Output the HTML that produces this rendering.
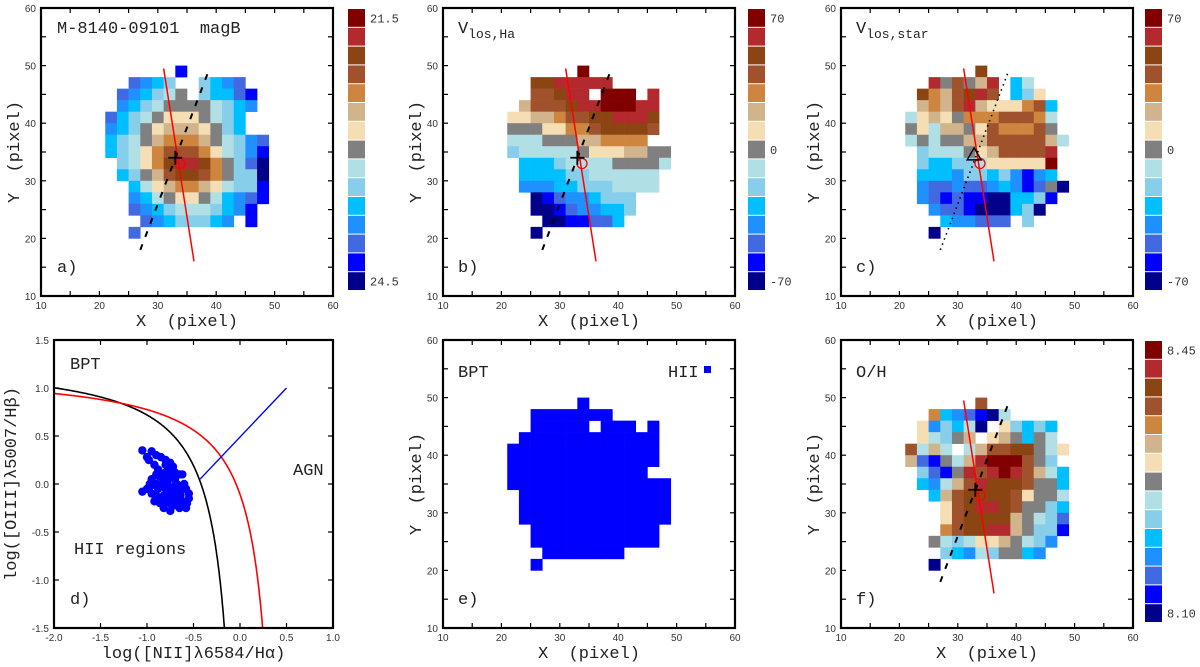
<!DOCTYPE html>
<html><head><meta charset="utf-8">
<style>
html,body{margin:0;padding:0;background:#fff;}
svg{display:block;font-family:"Liberation Mono",monospace;}
text{white-space:pre;}
.tk{font-family:"Liberation Sans",sans-serif;font-size:10px;fill:#333;}
.ttl{font-size:17px;fill:#222;}
.lbl{font-size:17px;fill:#222;}
.cbl{font-size:12px;fill:#333;}
</style></head>
<body>
<svg id="fig" width="1200" height="667" viewBox="0 0 1200 667" xmlns="http://www.w3.org/2000/svg"></svg>
<script>
// ---------- DATA ----------
const levelColors = ["#800000","#b22a2e","#8b4513","#a0522d","#cd853f","#d2b48c","#f5deb3","#808080","#b0e0e6","#87ceeb","#00bfff","#1e90ff","#4169e1","#0000ff","#00008b"];
const levelCodes = "0123456789abcde";
const gridX0 = 21, gridYTop = 48, cellStep = 2;
const mapA = [
"......d.......",
"..cba9..9abc..",
".cba987.9aacd.",
".ba98777789ab.",
"ca987666789a..",
"ba976555679a..",
"a98754445789bc",
"a98643334689bd",
".98642112479ce",
".a97532234799e",
"..a8654456899d",
"..ba876678abcd",
"..cba98889abd.",
"...cba999ab.d.",
"..c..........."];
const mapB = [
"......0.......",
"..2211111.....",
"..33211.000.1.",
".533321100011.",
"6655433221112.",
"7776644322223.",
"888777554444..",
"98888876665577",
".aaa9888877778",
".aaaa99888888.",
".bbbaa9998888.",
"..edcbba999...",
"..eedcbbaa9...",
"...eeddcca....",
"..e..........."];
const mapC = [
"......2.......",
"..173751.a8...",
".2453213.a96..",
".54531566643a.",
"8656744433348.",
"7685576344437.",
"87877553333358",
".988876533331.",
".9aa998666660.",
".aaab99a9bdba.",
".bccbccbabdc7e",
".bcdcddeeaa9d.",
"..bccdeeea9e..",
"...abbccc.9...",
"..e..........."];
const mapF = [
"......3.......",
"..4abcde8.....",
".6b9a8e.69a9a.",
".68975.657a78.",
"3858.853322786",
"5cd7851000379.",
".9cd713101358a",
".ab8531222377a",
"..a53222236778",
"...6321123779a",
"...6322225789c",
"...4322115799d",
"..7898665789b.",
"...9ab8977ab..",
"..e..........."];
const mapE = [
"......#.......",
"..#######.....",
"..#####.###.#.",
".############.",
"#############.",
"#############.",
"############..",
"##############",
".#############",
".#############",
".#############",
"..###########.",
"..###########.",
"...#######....",
"..#..........."];
const cbLabelsA = ["21.5","24.5"];
const cbLabelsB = ["70","0","-70"];
const cbLabelsC = ["70","0","-70"];
const cbLabelsF = ["8.45","8.10"];
const bptX = [-1.05,-0.95,-0.9,-0.85,-0.8,-0.75,-0.72,-1.0,-0.98,-0.92,-0.88,-0.85,-0.8,-0.75,-0.7,-0.65,-0.62,-0.95,-0.9,-0.85,-0.8,-0.75,-0.7,-0.65,-0.6,-0.55,-1.05,-1.0,-0.95,-0.9,-0.85,-0.8,-0.75,-0.7,-0.65,-0.6,-0.55,-0.58,-0.68,-0.78,-0.88,-0.92,-0.82,-0.75,-0.72,-0.62,-0.6,-0.68,-0.78,-0.83,-0.58,-0.66,-0.74,-0.86,-0.96,-0.8,-0.76,-0.7,-0.9,-0.82,-0.72,-0.64,-0.57,-0.97,-0.87,-0.77,-0.67];
const bptY = [0.35,0.34,0.3,0.28,0.25,0.22,0.18,0.28,0.25,0.2,0.15,0.1,0.12,0.08,0.05,0.1,0.1,0.05,0.0,-0.02,-0.05,-0.05,-0.02,-0.03,-0.05,-0.1,-0.08,-0.05,-0.1,-0.12,-0.15,-0.18,-0.2,-0.22,-0.25,-0.2,-0.15,-0.05,-0.15,-0.1,-0.05,-0.18,-0.25,-0.28,-0.12,-0.18,0.0,0.0,0.02,0.05,-0.25,-0.08,-0.15,-0.2,-0.02,0.2,0.15,0.12,0.1,-0.12,-0.08,-0.12,-0.2,0.0,0.08,-0.03,-0.18];
const xTicksPix = [10,20,30,40,50,60];
const xTicksBpt = ["-2.0","-1.5","-1.0","-0.5","0.0","0.5","1.0"];
const yTicksBpt = ["1.5","1.0","0.5","0.0","-0.5","-1.0","-1.5"];
// ---------- DRAW ----------
const NS="http://www.w3.org/2000/svg";
const svg=document.getElementById('fig');
function el(tag,attrs,parent){const e=document.createElementNS(NS,tag);for(const k in attrs)e.setAttribute(k,attrs[k]);(parent||svg).appendChild(e);return e;}
function txt(s,x,y,cls,anchor,parent){const t=el('text',{x:x,y:y,class:cls,'text-anchor':anchor||'start'},parent);t.textContent=s;return t;}

function mkScale(d0,d1,r0,r1){return v=>r0+(v-d0)/(d1-d0)*(r1-r0);}

function frame(g,L,R,T,B,xmin,xmax,ymin,ymax,step,xl,yl){
  const sx=mkScale(xmin,xmax,L,R), sy=mkScale(ymin,ymax,B,T);
  for(let v=xmin;v<=xmax+1e-9;v+=step){const x=sx(v);
    el('line',{x1:x,y1:B,x2:x,y2:B-5,stroke:'#000','stroke-width':1.2},g);
    el('line',{x1:x,y1:T,x2:x,y2:T+5,stroke:'#000','stroke-width':1.2},g);}
  for(let v=ymin;v<=ymax+1e-9;v+=step){const y=sy(v);
    el('line',{x1:L,y1:y,x2:L+5,y2:y,stroke:'#000','stroke-width':1.2},g);
    el('line',{x1:R,y1:y,x2:R-5,y2:y,stroke:'#000','stroke-width':1.2},g);}
  xl.forEach((s,i)=>{const t=txt(s,sx(xmin+i*(xmax-xmin)/(xl.length-1)),B+13,'tk','middle',g);
    
    });
  yl.forEach((s,i)=>{const t=txt(s,L-5,sy(ymin+i*(ymax-ymin)/(yl.length-1))+4,'tk','end',g);
    
    });
  const r=el('rect',{x:L,y:T,width:R-L,height:B-T,fill:'none',stroke:'#000','stroke-width':2.2},g);
  
  
  return {sx,sy};
}

function drawMap(g,sc,grid,single){
  grid.forEach((row,j)=>{for(let i=0;i<row.length;i++){const c=row[i];if(c==='.')continue;
    const X=gridX0+cellStep*i, Y=gridYTop-cellStep*j;
    const col = single ? single : levelColors[levelCodes.indexOf(c)];
    const r=el('rect',{x:sc.sx(X),y:sc.sy(Y+cellStep),width:sc.sx(X+cellStep)-sc.sx(X)+0.3,height:sc.sy(Y)-sc.sy(Y+cellStep)+0.3,fill:col},g);
    
    }});
}

function colorbar(g,x,T,B,labels){
  const h=(B-T)/levelColors.length;
  levelColors.forEach((c,i)=>{const r=el('rect',{x:x,y:T+i*h,width:17,height:h-1,fill:c},g);
    
    });
  labels.forEach((s,i)=>{const y = labels.length===3 ? [T+h/2,T+7.5*h,B-h/2][i] : [T+h/2,B-h/2][i];
    const t=txt(s,x+22,y+4,'cbl','start',g);
    
    });
}

function overlay(g,sc,dotted,triangle){
  const rl=el('line',{x1:sc.sx(31),y1:sc.sy(49.5),x2:sc.sx(36.2),y2:sc.sy(16),stroke:'#f00','stroke-width':1.5},g);
  
  
  const dl=el('line',{x1:sc.sx(27),y1:sc.sy(18),x2:sc.sx(38.6),y2:sc.sy(48.8),stroke:'#000','stroke-width':dotted?1.6:2,'stroke-dasharray':dotted?'1.5,4':'6,8'},g);
  
  
  const ci=el('circle',{cx:sc.sx(33.8),cy:sc.sy(33),r:5,fill:'none',stroke:'#f00','stroke-width':1.3},g);
  
  
  if(triangle){
    const x=sc.sx(32.8),y=sc.sy(34.5);
    const tr=el('polygon',{points:`${x-7},${y+5} ${x+7},${y+5} ${x},${y-7}`,fill:'none',stroke:'#000','stroke-width':1.4},g);
    
    
  } else {
    const x=sc.sx(33),y=sc.sy(34);
    const p=el('path',{d:`M${x-7},${y}H${x+7}M${x},${y-7}V${y+7}`,stroke:'#000','stroke-width':1.8},g);
    
    
  }
}

function axisTitles(g,L,R,T,B,xt,yt,yx){
  const a=txt(xt,(L+R)/2,B+30,'lbl','middle',g);
  
  
  const b=txt(yt,0,0,'lbl','middle',g);
  b.setAttribute('transform',`translate(${yx},${(T+B)/2}) rotate(-90)`);
  
  
}

const pixLabels=xTicksPix.map(String);
function mapPanel(name,L,T,B,grid,single,cbX,cbLabels,opts){
  const g=el('g',{});
  
  
  const R=L+292;
  const sc={sx:mkScale(10,60,L,R),sy:mkScale(10,60,B,T)};
  drawMap(g,sc,grid,single);
  if(opts.overlay) overlay(g,sc,opts.dotted,opts.triangle);
  frame(g,L,R,T,B,10,60,10,60,5,pixLabels,pixLabels);
  if(cbX) colorbar(g,cbX,T+1,T+283,cbLabels);
  axisTitles(g,L,R,T,B,'X  (pixel)','Y  (pixel)',L-22);
  return {g,sc};
}

const pa=mapPanel('panel-a-magB',41,8,296,mapA,null,348,cbLabelsA,{overlay:true});
let t=txt('M-8140-09101  magB',57,33,'ttl','start',pa.g);


t=txt('a)',57,272,'lbl','start',pa.g);



const pb=mapPanel('panel-b-vlos-ha',443,8,296,mapB,null,748,cbLabelsB,{overlay:true});
t=el('text',{x:458,y:33,class:'ttl'},pb.g);
t.innerHTML='V<tspan dy="5" font-size="13">los,Ha</tspan>';


t=txt('b)',458,272,'lbl','start',pb.g);



const pc=mapPanel('panel-c-vlos-star',841,8,296,mapC,null,1145,cbLabelsC,{overlay:true,dotted:true,triangle:true});
t=el('text',{x:856,y:33,class:'ttl'},pc.g);
t.innerHTML='V<tspan dy="5" font-size="13">los,star</tspan>';


t=txt('c)',856,272,'lbl','start',pc.g);



const pe=mapPanel('panel-e-bpt-map',443,340,628,mapE,'#0000ff',null,null,{overlay:false});
t=txt('BPT',458,377,'lbl','start',pe.g);


t=txt('HII',668,377,'lbl','start',pe.g);


const lg=el('rect',{x:704,y:366,width:7,height:7,fill:'#0000ff'},pe.g);


t=txt('e)',458,604,'lbl','start',pe.g);



const pf=mapPanel('panel-f-oh',841,340,628,mapF,null,1145,cbLabelsF,{overlay:true});
t=txt('O/H',856,377,'lbl','start',pf.g);


t=txt('f)',856,604,'lbl','start',pf.g);



// panel d BPT diagram
(function(){
  const g=el('g',{});
  
  
  const L=54,R=333,T=340,B=628;
  const sx=mkScale(-2,1,L,R), sy=mkScale(-1.5,1.5,B,T);
  const clip=el('clipPath',{id:'dclip'},g);
  el('rect',{x:L,y:T,width:R-L,height:B-T},clip);
  const cg=el('g',{'clip-path':'url(#dclip)'},g);
  function curve(f,xmax,col,name){let d='';for(let x=-2;x<xmax;x+=0.005){const y=f(x);if(y<-1.6)break;d+=(d?'L':'M')+sx(x).toFixed(1)+','+sy(y).toFixed(1);}
    const p=el('path',{d:d,fill:'none',stroke:col,'stroke-width':1.6},cg);
    
    }
  curve(x=>0.61/(x-0.05)+1.3,0.05,'#000','kauffmann-curve');
  curve(x=>0.61/(x-0.47)+1.19,0.47,'#f00','kewley-curve');
  const bl=el('line',{x1:sx(-0.43),y1:sy(0.05),x2:sx(0.5),y2:sy(1.0),stroke:'#0000ff','stroke-width':1.4},cg);
  
  
  bptX.forEach((x,i)=>{const c=el('circle',{cx:sx(x),cy:sy(bptY[i]),r:4.2,fill:'#0000ff'},cg);
    
    });
  frame(g,L,R,T,B,-2,1,-1.5,1.5,0.5,xTicksBpt,yTicksBpt.slice().reverse());
  let tt=txt('BPT',70,369,'lbl','start',g);
  
  
  tt=txt('AGN',293,475,'lbl','start',g);
  
  
  tt=txt('HII regions',74,554,'lbl','start',g);
  
  
  tt=txt('d)',70,604,'lbl','start',g);
  
  
  axisTitles(g,L,R,T,B,'log([NII]λ6584/Hα)','log([OIII]λ5007/Hβ)',16);
})();
</script>
</body></html>
